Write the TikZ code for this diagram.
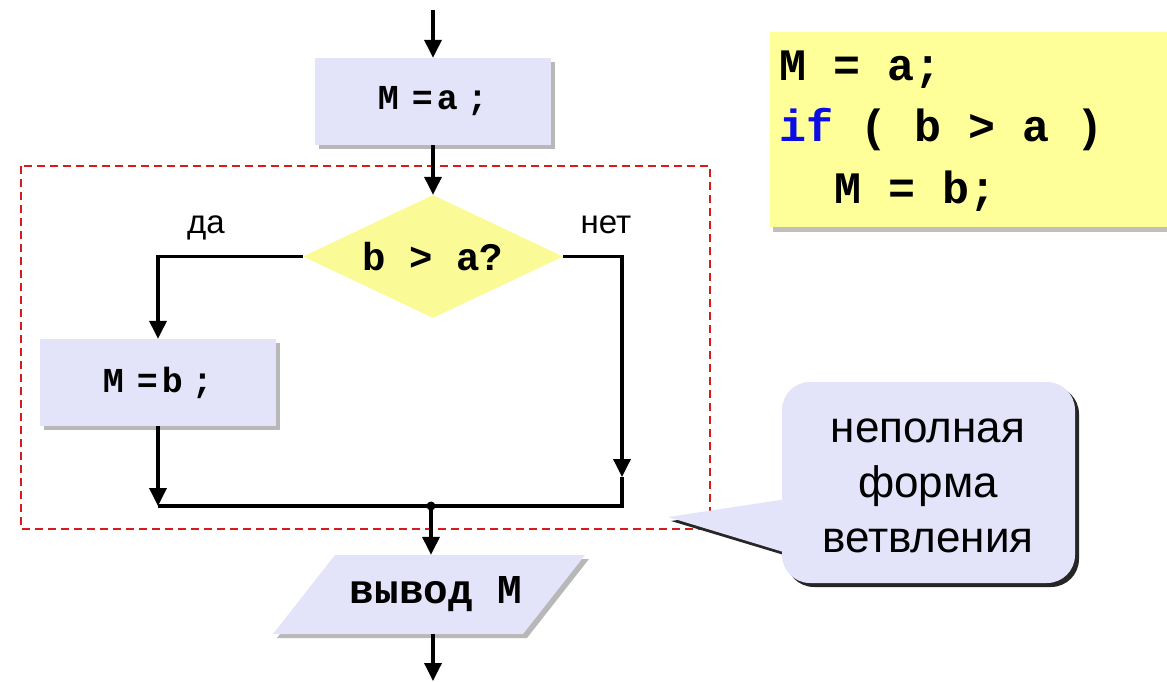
\documentclass[tikz,border=0pt]{standalone}
\usepackage{fontspec}
\setmainfont{Liberation Sans}
\newfontfamily\codefont{Liberation Mono}
\usetikzlibrary{arrows.meta,shapes.geometric,shadows}

\definecolor{lav}{RGB}{227,227,249}
\definecolor{lemon}{RGB}{255,255,153}
\definecolor{diam}{RGB}{250,250,150}
\definecolor{dashred}{RGB}{212,28,28}
\definecolor{kw}{RGB}{12,12,228}

\tikzset{
  flow/.style={line width=3.5pt, line join=miter},
  flowarr/.style={flow, -{Triangle[length=18pt,width=17pt]}},
  softshadow/.style={drop shadow={shadow xshift=4pt, shadow yshift=-4pt, fill=black, opacity=.28}},
  procbox/.style={rectangle, fill=lav, minimum width=236pt, minimum height=87pt,
    inner sep=0pt, softshadow, font=\codefont\bfseries\fontsize{35}{35}\selectfont},
  decision/.style={diamond, fill=diam, minimum width=260pt, minimum height=123pt,
    aspect=2.1, inner sep=0pt, font=\codefont\bfseries\fontsize{39}{39}\selectfont},
  iotext/.style={rectangle, inner sep=0pt, minimum height=79pt,
    font=\codefont\bfseries\fontsize{41}{41}\selectfont},
  codetext/.style={inner sep=0pt, anchor=base west,
    font=\codefont\bfseries\fontsize{45}{45}\selectfont},
  branchlabel/.style={inner sep=0pt, anchor=base, font=\fontsize{33}{33}\selectfont},
  dot/.style={circle, fill=black, inner sep=0pt, minimum size=9pt}
}

\begin{document}
\begin{tikzpicture}[x=1pt,y=-1pt]
\useasboundingbox (0,0) rectangle (1167,681);

% frame around the if-block
\draw[dashred, line width=1.5pt, dash pattern=on 8pt off 5pt] (21,166) rectangle (710,529);

% code listing
\node[rectangle, fill=lemon, anchor=north west, minimum width=420pt, minimum height=195pt,
      inner sep=0pt, drop shadow={shadow xshift=3pt, shadow yshift=-5pt, fill=black, opacity=.25}]
  (codebg) at (770,32) {};
\node[codetext] (c1) at (779,80) {M = a;};
\node[codetext] (c2) at (779,141) {\textcolor{kw}{if} ( b > a )};
\node[codetext] (c3) at (834,203) {M = b;};

% flowchart blocks
\node[procbox] (ma) at (433,101.5) {M\kern13pt=\kern4pt a\kern9pt;};
\node[decision] (cond) at (433,256.5) {b > a?};
\node[procbox] (mb) at (158,382.5) {M\kern13pt=\kern4pt b\kern9pt;};

\node[branchlabel] (lyes) at (206,233) {да};
\node[branchlabel] (lno) at (606,233) {нет};

% output block (parallelogram)
\fill[black, opacity=.28] (277,638) -- (339,559) -- (589,559) -- (527,638) -- cycle;
\fill[lav] (273,634) -- (335,555) -- (585,555) -- (523,634) -- cycle;
\node[iotext] (out) at (436,594.5) {вывод M};

\node[dot] (join) at (431,506) {};
\coordinate (entry) at (433,10);
\coordinate (exit) at (433,681);
\coordinate (rarr) at (622,477);
\coordinate (rbot) at (rarr |- join);

% connectors
\draw[flowarr] (entry) -- (ma.north);
\draw[flowarr] (ma.south) -- (cond.north);
\draw[flowarr] (cond.west) -| (mb.north);
\draw[flowarr] (mb.south) -- (mb.south |- join);
\draw[flowarr] (cond.east) -| (rarr);
\draw[flow] (rarr) -- (rbot) -- (mb.south |- join);
\draw[flowarr] (join.center) -- (join |- out.north);
\draw[flowarr] (exit |- out.south) -- (exit);

% callout
\coordinate (tip) at (668,517);
\fill[black!85, rounded corners=28pt] (786,386) rectangle (1079,587);
\fill[black!85] (671,521) -- (804,501) -- (804,561) -- cycle;
\fill[lav, rounded corners=28pt] (782,382) rectangle (1075,583);
\fill[lav] (tip) -- (800,497) -- (800,557) -- cycle;
\node[align=center, inner sep=0pt, font=\fontsize{44}{55}\selectfont] (note) at (928,486)
  {неполная\\форма\\ветвления};
\end{tikzpicture}
\end{document}
